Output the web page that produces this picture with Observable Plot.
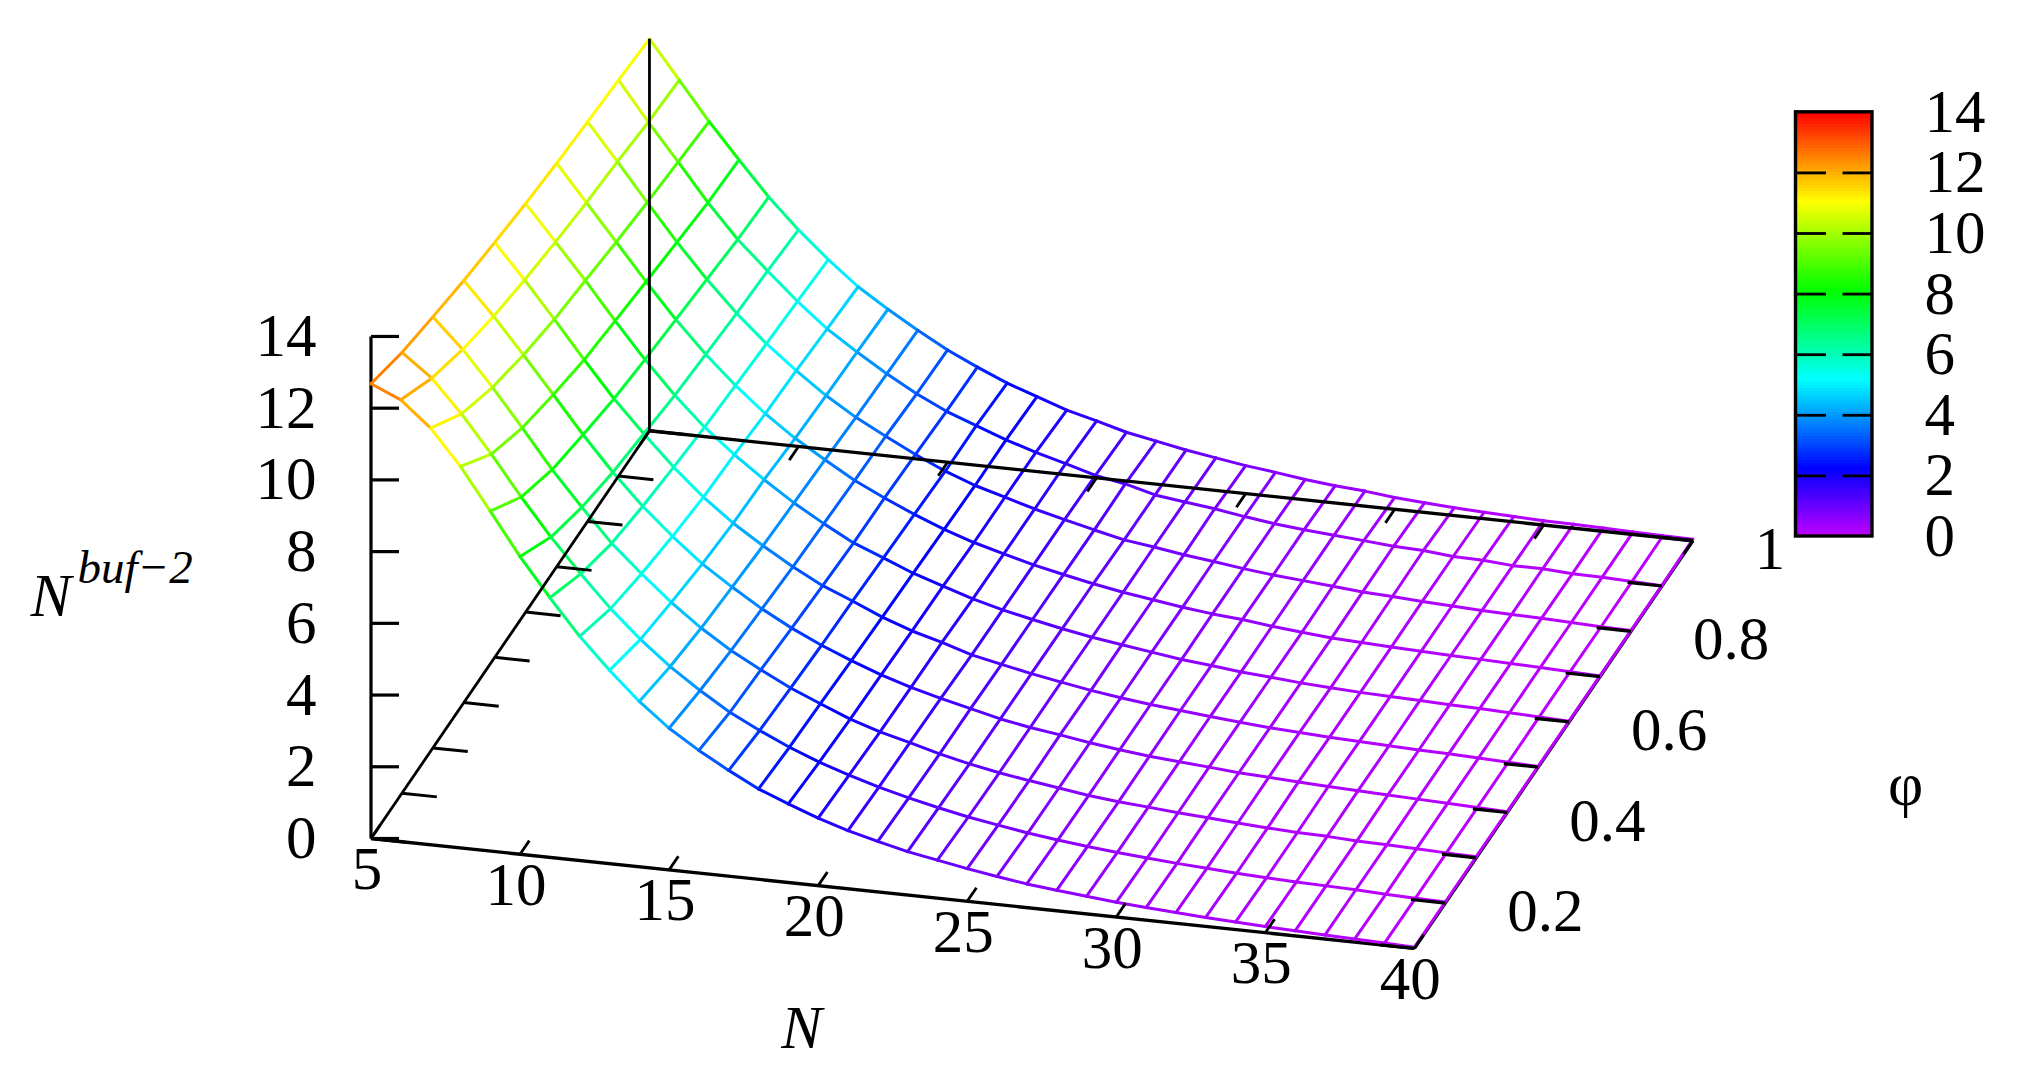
<!DOCTYPE html>
<html>
<head>
<meta charset="utf-8">
<script src="https://cdn.jsdelivr.net/npm/d3@7"></script>
<script src="https://cdn.jsdelivr.net/npm/@observablehq/plot@0.6"></script>
<style>html,body{margin:0;padding:0;background:#fff}svg{display:block}</style>
</head>
<body>
<div id="chart"></div>
<script>
// ---- values ----
const nValues = d3.range(5, 41);
const phiValues = [0.1, 0.2, 0.3, 0.4, 0.5, 0.6, 0.7, 0.8, 0.9, 1];
const nTicks = [5, 10, 15, 20, 25, 30, 35, 40];
const phiTicks = [0.1, 0.2, 0.3, 0.4, 0.5, 0.6, 0.7, 0.8, 0.9, 1];
const phiLabels = [0.2, 0.4, 0.6, 0.8, 1];
const zTicks = [0, 2, 4, 6, 8, 10, 12, 14];
const barTicks = [2, 4, 6, 8, 10, 12];

const phi01 = [12.68,12.32,11.62,10.64,9.48,8.30,7.24,6.25,5.39,4.61,3.95,3.42,2.95,2.52,2.19,1.88,1.62,1.41,1.21,1.06,.91,.78,.66,.57,.49,.41,.35,.30,.25,.21,.17,.14,.11,.09,.06,.03];
const phi02 = [12.29,11.66,10.75,9.72,8.61,7.58,6.64,5.76,4.99,4.32,3.74,3.22,2.80,2.42,2.09,1.82,1.57,1.36,1.17,1.00,.86,.73,.62,.53,.45,.38,.32,.27,.22,.18,.15,.13,.11,.07,.05,.03];
const phi03 = [12.02,11.20,10.23,9.19,8.11,7.15,6.23,5.47,4.76,4.13,3.59,3.14,2.72,2.37,2.03,1.76,1.55,1.32,1.13,.97,.84,.72,.60,.51,.45,.38,.33,.27,.22,.18,.16,.12,.10,.08,.05,.03];
const phi04 = [11.77,10.86,9.87,8.85,7.82,6.86,6.00,5.25,4.57,4.01,3.49,3.04,2.65,2.31,2.00,1.74,1.52,1.32,1.12,.97,.85,.72,.61,.52,.45,.39,.32,.28,.24,.20,.17,.14,.11,.08,.05,.02];
const phi05 = [11.57,10.61,9.60,8.56,7.56,6.67,5.83,5.08,4.44,3.90,3.40,2.96,2.62,2.26,1.96,1.73,1.47,1.29,1.12,.97,.83,.71,.61,.53,.45,.38,.31,.27,.22,.19,.16,.13,.11,.08,.05,.02];
const phi06 = [11.39,10.41,9.42,8.38,7.39,6.48,5.68,5.00,4.39,3.83,3.34,2.89,2.56,2.22,1.95,1.68,1.46,1.28,1.11,.96,.84,.72,.60,.52,.43,.37,.30,.25,.21,.18,.16,.13,.11,.08,.05,.02];
const phi07 = [11.25,10.24,9.23,8.21,7.24,6.36,5.58,4.88,4.28,3.77,3.28,2.88,2.51,2.18,1.90,1.67,1.45,1.27,1.10,.95,.83,.71,.61,.54,.44,.36,.29,.25,.21,.18,.15,.13,.10,.08,.05,.02];
const phi08 = [11.14,10.12,9.07,8.05,7.10,6.24,5.48,4.82,4.21,3.69,3.25,2.83,2.45,2.14,1.90,1.66,1.45,1.25,1.06,.95,.82,.72,.61,.52,.45,.38,.31,.27,.22,.18,.14,.12,.10,.07,.04,.02];
const phi09 = [11.04,9.96,8.94,7.89,6.95,6.16,5.40,4.72,4.16,3.64,3.17,2.77,2.46,2.15,1.89,1.66,1.42,1.27,1.05,.94,.84,.71,.60,.52,.45,.39,.32,.29,.21,.19,.13,.13,.08,.07,.04,.01];
const phi10 = [10.93,9.87,8.80,7.82,6.87,6.04,5.30,4.63,4.09,3.59,3.13,2.74,2.38,2.09,1.80,1.59,1.36,1.20,1.04,.91,.78,.68,.57,.48,.42,.33,.27,.22,.18,.15,.12,.11,.09,.07,.05,.04];
const surface = [phi01, phi02, phi03, phi04, phi05, phi06, phi07, phi08, phi09, phi10];

// ---- the fixed 3-D view (gnuplot style axonometric projection) ----
const view = {ox: 370.5, oy: 838, nx: 29.81, ny: 3.14, px: 309.4, py: -453, z: 35.86};
const sx = (n, p) => view.ox + (n - 5) * view.nx + (p - 0.1) * view.px;
const sy = (n, p, z = 0) => view.oy + (n - 5) * view.ny + (p - 0.1) * view.py - z * view.z;
const zY = v => view.oy - v * view.z;
const bar = {x1: 1795.5, x2: 1872, y0: 536, k: 30.3};
const barY = v => bar.y0 - v * bar.k;

// segments of the wire-frame
const segments = [];
phiValues.forEach((p, i) => nValues.forEach((n, k) => {
  const z = surface[i][k];
  if (k < nValues.length - 1) {
    const z2 = surface[i][k + 1];
    segments.push({x1: sx(n, p), y1: sy(n, p, z), x2: sx(n + 1, p), y2: sy(n + 1, p, z2), z: (z + z2) / 2});
  }
  if (i < phiValues.length - 1) {
    const p2 = phiValues[i + 1], z2 = surface[i + 1][k];
    segments.push({x1: sx(n, p), y1: sy(n, p, z), x2: sx(n, p2), y2: sy(n, p2, z2), z: (z + z2) / 2});
  }
}));

const link = (data, a, b, w) => Plot.link(data, {
  x1: d => a(d)[0], y1: d => a(d)[1], x2: d => b(d)[0], y2: d => b(d)[1],
  stroke: "black", strokeWidth: w
});
const P = (n, p, z = 0) => [sx(n, p), sy(n, p, z)];
const font = {fontFamily: "'Liberation Serif','Times New Roman',serif", fontSize: 61, fill: "black"};
const levels = d3.range(0, 14, 0.1);

const plot = Plot.plot({
  width: 2022, height: 1066,
  margin: 0,
  style: {background: "white"},
  x: {domain: [0, 2022], range: [0, 2022], axis: null},
  y: {domain: [0, 1066], range: [0, 1066], axis: null},
  color: {type: "linear", domain: [0, 14], interpolate: t => d3.hsl(285 * (1 - t), 1, 0.5).formatRgb()},
  marks: [
    // axes lying under the surface
    link([0], () => [view.ox, zY(0)], () => [view.ox, zY(14)], 3.2),
    link([0], () => P(5, 0.1), () => P(40, 0.1), 3.4),
    link([0], () => P(40, 0.1), () => P(40, 1), 3.4),
    // z ticks
    link(zTicks, d => [view.ox, zY(d)], d => [view.ox + 28, zY(d)], 3.2),
    // surface
    Plot.link(segments, {x1: "x1", y1: "y1", x2: "x2", y2: "y2", stroke: "z", strokeWidth: 3, strokeLinecap: "round"}),
    // axes lying over the surface
    link([0], () => P(5, 0.1), () => P(5, 1), 2.8),
    link([0], () => P(5, 1), () => P(40, 1), 3.4),
    link([0], () => P(5, 1), () => P(5, 1, phi10[0]), 2.8),
    link(nTicks, d => P(d, 0.1), d => P(d, 0.1 + 0.03), 2.8),
    link(nTicks, d => P(d, 1), d => P(d, 1 - 0.03), 2.8),
    link(phiTicks, d => P(5, d), d => P(5 + 1.17, d), 3),
    link(phiTicks, d => P(40, d), d => P(40 - 1.15, d), 3.2),
    // tick labels
    Plot.text(zTicks, {x: () => 316, y: d => zY(d), text: d => String(d), textAnchor: "end", lineAnchor: "middle", ...font}),
    Plot.text(nTicks, {x: d => sx(d, 0.1), y: d => sy(d, 0.1), text: d => String(d), dx: -4, dy: 31, textAnchor: "middle", lineAnchor: "middle", ...font}),
    Plot.text(phiLabels, {x: d => sx(40, d), y: d => sy(40, d), text: d => String(d), dx: 62, dy: 8.5, textAnchor: "start", lineAnchor: "middle", ...font}),
    // axis titles
    Plot.text(["N"], {x: () => 801, y: () => 1028, text: d => d, textAnchor: "middle", lineAnchor: "middle", fontStyle: "italic", ...font}),
    Plot.text(["\u03C6"], {x: () => 1905, y: () => 785, text: d => d, textAnchor: "middle", lineAnchor: "middle", ...font}),
    Plot.text(["N"], {x: () => 30, y: () => 615, text: d => d, textAnchor: "start", lineAnchor: "bottom", fontStyle: "italic", ...font}),
    Plot.text(["buf\u22122"], {x: () => 77, y: () => 582, text: d => d, textAnchor: "start", lineAnchor: "bottom", fontStyle: "italic", ...font, fontSize: 47}),
    // colour bar
    Plot.rect(levels, {x1: () => bar.x1, x2: () => bar.x2, y1: d => barY(d + 0.1), y2: d => barY(d), fill: d => d + 0.05, shapeRendering: "crispEdges"}),
    Plot.rect([0], {x1: () => bar.x1, x2: () => bar.x2, y1: () => barY(14), y2: () => barY(0), stroke: "black", strokeWidth: 3.4, fill: "none"}),
    link(barTicks, d => [bar.x1, barY(d)], d => [bar.x1 + 30, barY(d)], 2.8),
    link(barTicks, d => [bar.x2, barY(d)], d => [bar.x2 - 30, barY(d)], 2.8),
    Plot.text(zTicks, {x: () => 1924, y: d => barY(d), text: d => String(d), textAnchor: "start", lineAnchor: "middle", ...font})
  ]
});
document.getElementById("chart").append(plot);
</script>
</body>
</html>
